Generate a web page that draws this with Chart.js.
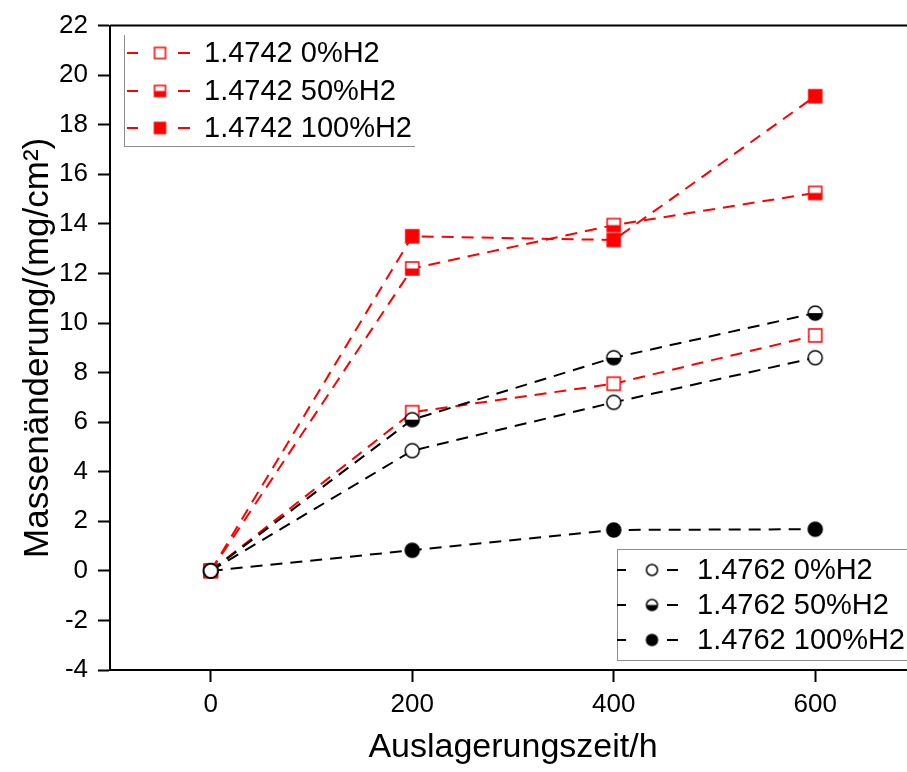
<!DOCTYPE html>
<html>
<head>
<meta charset="utf-8">
<script src="https://cdn.jsdelivr.net/npm/chart.js@4"></script>
<style>
  html, body { margin: 0; padding: 0; background: #fff; overflow: hidden; }
  #wrap { width: 907px; height: 772px; overflow: hidden; }
</style>
</head>
<body>
<div id="wrap"><canvas id="massChart" width="925" height="772"></canvas></div>
<script>
// exposure time (h) and mass change (mg/cm2)
const hours = [0, 200, 400, 600];
const xTickValues = [0, 200, 400, 600];

const s4742_0 = [0, 6.4, 7.55, 9.5];
const s4742_50 = [0, 12.2, 13.95, 15.25];
const s4742_100 = [0, 13.5, 13.35, 19.15];
const s4762_0 = [0, 4.85, 6.8, 8.6];
const s4762_50 = [0, 6.1, 8.6, 10.4];
const s4762_100 = [0, 0.83, 1.65, 1.68];

const labels4742 = ['1.4742 0%H2', '1.4742 50%H2', '1.4742 100%H2'];
const labels4762 = ['1.4762 0%H2', '1.4762 50%H2', '1.4762 100%H2'];

const RED = '#ff0000';
const BLACK = '#000000';
const FONT = "'Liberation Sans', Arial, sans-serif";

// open / half / full markers as small canvases
function makeMarker(shape, fill, color, size) {
  const c = document.createElement('canvas');
  const s = size + 4;
  c.width = s; c.height = s;
  const g = c.getContext('2d');
  const m = s / 2, r = size / 2;
  const path = () => {
    g.beginPath();
    if (shape === 'square') g.rect(m - r, m - r, size, size);
    else g.arc(m, m, r, 0, Math.PI * 2);
  };
  path(); g.fillStyle = '#fff'; g.fill();
  if (fill !== 'open') {
    g.save(); path(); g.clip();
    g.fillStyle = color;
    g.fillRect(0, fill === 'half' ? m : 0, s, s);
    g.restore();
  }
  g.lineWidth = 1.5;
  g.strokeStyle = color;
  path(); g.stroke();
  return c;
}

const fills = ['open', 'half', 'full'];
const sqMarks = fills.map(f => makeMarker('square', f, RED, 13));
const ciMarks = fills.map(f => makeMarker('circle', f, BLACK, 14));
const sqLegend = fills.map(f => makeMarker('square', f, RED, 11));
const ciLegend = fills.map(f => makeMarker('circle', f, BLACK, 11));

function series(label, data, color, mark, order) {
  return {
    label: label,
    data: hours.map((h, i) => ({x: h, y: data[i]})),
    borderColor: color,
    backgroundColor: color,
    borderWidth: 2,
    borderDash: [12, 8],
    tension: 0,
    pointStyle: mark,
    pointRadius: 7,
    order: order
  };
}

function legendBox(ctx, box, rows, color, marks, sides) {
  ctx.save();
  ctx.fillStyle = '#fff';
  ctx.fillRect(box.left, box.top, box.right - box.left, box.bottom - box.top);
  ctx.strokeStyle = '#8c8c8c';
  ctx.lineWidth = 1;
  ctx.beginPath();
  if (sides.includes('l')) { ctx.moveTo(box.left + 0.5, box.top); ctx.lineTo(box.left + 0.5, box.bottom); }
  if (sides.includes('b')) { ctx.moveTo(box.left, box.bottom + 0.5); ctx.lineTo(box.right, box.bottom + 0.5); }
  if (sides.includes('t')) { ctx.moveTo(box.left, box.top + 0.5); ctx.lineTo(box.right, box.top + 0.5); }
  ctx.stroke();
  rows.forEach((text, i) => {
    const y = box.rowY[i];
    ctx.strokeStyle = color;
    ctx.lineWidth = 2;
    ctx.beginPath();
    ctx.moveTo(box.dash1[0], y); ctx.lineTo(box.dash1[1], y);
    ctx.moveTo(box.dash2[0], y); ctx.lineTo(box.dash2[1], y);
    ctx.stroke();
    const mk = marks[i];
    ctx.drawImage(mk, box.markX - mk.width / 2, y - mk.height / 2);
    ctx.fillStyle = '#000';
    ctx.font = '29px ' + FONT;
    ctx.textBaseline = 'middle';
    ctx.textAlign = 'left';
    ctx.fillText(text, box.textX, y + 1);
  });
  ctx.restore();
}

const framePlugin = {
  id: 'frame',
  beforeDraw(chart) {
    const ctx = chart.ctx;
    ctx.save();
    ctx.fillStyle = '#fff';
    ctx.fillRect(0, 0, chart.width, chart.height);
    ctx.restore();
  },
  afterDraw(chart) {
    const ctx = chart.ctx;
    const a = chart.chartArea;
    ctx.save();
    ctx.strokeStyle = '#000';
    ctx.lineWidth = 2;
    ctx.beginPath();
    ctx.moveTo(a.left, a.top);
    ctx.lineTo(a.right, a.top);
    ctx.lineTo(a.right, a.bottom);
    ctx.stroke();
    ctx.restore();

    legendBox(ctx, {
      left: 124, top: 35, right: 415, bottom: 146,
      rowY: [53, 91, 128], dash1: [127, 138], markX: 160, dash2: [178, 190], textX: 204
    }, labels4742, RED, sqLegend, 'lb');

    legendBox(ctx, {
      left: 617, top: 549, right: 925, bottom: 660,
      rowY: [570, 605, 640], dash1: [617, 626], markX: 652, dash2: [667, 678], textX: 697
    }, labels4762, BLACK, ciLegend, 'ltb');
  }
};

const ctx = document.getElementById('massChart').getContext('2d');

new Chart(ctx, {
  type: 'line',
  data: {
    datasets: [
      series(labels4742[0], s4742_0, RED, sqMarks[0], 1),
      series(labels4742[1], s4742_50, RED, sqMarks[1], 1),
      series(labels4742[2], s4742_100, RED, sqMarks[2], 1),
      series(labels4762[0], s4762_0, BLACK, ciMarks[0], 0),
      series(labels4762[1], s4762_50, BLACK, ciMarks[1], 0),
      series(labels4762[2], s4762_100, BLACK, ciMarks[2], 0)
    ]
  },
  options: {
    responsive: false,
    animation: false,
    layout: { padding: { top: 20, right: 6, left: 0, bottom: 0 } },
    plugins: {
      legend: { display: false },
      tooltip: { enabled: false }
    },
    scales: {
      x: {
        type: 'linear',
        min: -100,
        max: 700,
        afterBuildTicks: s => { s.ticks = xTickValues.map(v => ({value: v})); },
        afterFit: s => { s.height = 102; },
        grid: { drawOnChartArea: false, drawTicks: true, tickLength: 12, tickWidth: 2, tickColor: '#000' },
        border: { display: true, color: '#000', width: 2 },
        ticks: { color: '#000', font: { size: 26, family: FONT }, padding: 7, maxRotation: 0 },
        title: {
          display: true,
          text: 'Auslagerungszeit/h',
          color: '#000',
          font: { size: 34, family: FONT },
          padding: { top: 0, bottom: 4 }
        }
      },
      y: {
        min: -4,
        max: 22,
        afterFit: s => { s.width = 110; },
        grid: { drawOnChartArea: false, drawTicks: true, tickLength: 12, tickWidth: 2, tickColor: '#000' },
        border: { display: true, color: '#000', width: 2 },
        ticks: { stepSize: 2, color: '#000', font: { size: 26, family: FONT }, padding: 10 },
        title: {
          display: true,
          text: 'Massenänderung/(mg/cm²)',
          color: '#000',
          font: { size: 35, family: FONT },
          padding: { top: 17, bottom: 0 }
        }
      }
    }
  },
  plugins: [framePlugin]
});
</script>
</body>
</html>
